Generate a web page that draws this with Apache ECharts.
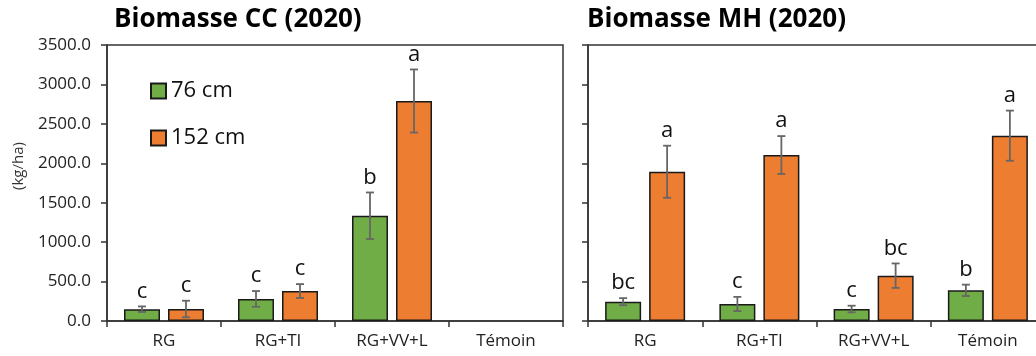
<!DOCTYPE html>
<html><head><meta charset="utf-8">
<script src="https://cdn.jsdelivr.net/npm/echarts@6/dist/echarts.min.js"></script>
<style>html,body{margin:0;padding:0;background:#fff}#c{width:1036px;height:356px}</style>
</head><body><div id="c"></div>
<script>
const categories = ['RG', 'RG+TI', 'RG+VV+L', 'Témoin'];
const seriesNames = ['76 cm', '152 cm'];
const titles = ['Biomasse CC (2020)', 'Biomasse MH (2020)'];
const yTicks = [0, 500, 1000, 1500, 2000, 2500, 3000, 3500];

const cc76 = [150, 280, 1335, null];
const cc76Err = [35, 100, 295, null];
const cc76Letters = ['c', 'c', 'b', ''];
const cc152 = [152, 380, 2790, null];
const cc152Err = [105, 88, 400, null];
const cc152Letters = ['c', 'c', 'a', ''];

const mh76 = [245, 216, 152, 389];
const mh76Err = [45, 90, 42, 72];
const mh76Letters = ['bc', 'c', 'c', 'b'];
const mh152 = [1893, 2105, 575, 2350];
const mh152Err = [330, 240, 155, 318];
const mh152Letters = ['a', 'a', 'bc', 'a'];

const FONT = 'Open Sans';
const GREEN = '#70AD47', ORANGE = '#ED7D31';
const BAR_W = 36, BAR_GAP = 8;
const OFF = (BAR_W + BAR_GAP) / 2;

function errSeries(gi, vals, errs, letters, side) {
  return {
    type: 'custom', xAxisIndex: gi, yAxisIndex: gi, z: 10, silent: true, clip: false,
    data: vals.map((v, i) => [i, v, errs[i]]),
    renderItem: function (params, api) {
      const i = api.value(0), v = api.value(1), e = api.value(2);
      if (v == null || isNaN(v)) return;
      const t = api.coord([i, v + e]);
      const b = api.coord([i, Math.max(0, v - e)]);
      const x = t[0] + side * OFF;
      const st = { stroke: '#666', lineWidth: 1.8 };
      return {
        type: 'group', children: [
          { type: 'line', shape: { x1: x, y1: t[1], x2: x, y2: b[1] }, style: st },
          { type: 'line', shape: { x1: x - 4, y1: t[1], x2: x + 4, y2: t[1] }, style: st },
          { type: 'line', shape: { x1: x - 4, y1: b[1], x2: x + 4, y2: b[1] }, style: st },
          { type: 'text', x: x, y: t[1] - 4, style: { text: letters[params.dataIndex], fill: '#111', font: '22px "' + FONT + '"', textAlign: 'center', textVerticalAlign: 'bottom' } }
        ]
      };
    }
  };
}

function barSeries(gi, name, vals, color) {
  return {
    type: 'bar', name: name, xAxisIndex: gi, yAxisIndex: gi,
    data: vals.map(v => v == null ? '-' : v),
    barWidth: BAR_W, barGap: (BAR_GAP / BAR_W * 100) + '%',
    itemStyle: { color: color, borderColor: '#1a1a1a', borderWidth: 1.5 },
    emphasis: { disabled: true }
  };
}

const axisLine = { lineStyle: { color: '#333', width: 1.5 } };

function xAx(gi) {
  return {
    type: 'category', gridIndex: gi, data: categories, boundaryGap: true,
    axisLine: axisLine,
    axisTick: { show: true, length: 6, lineStyle: { color: '#333', width: 1.5 } },
    axisLabel: { color: '#222', fontFamily: FONT, fontSize: 17, margin: 12 },
    splitLine: { show: false }
  };
}
function yAx(gi, showLabels) {
  return {
    type: 'value', gridIndex: gi, min: yTicks[0], max: yTicks[yTicks.length - 1], interval: 500,
    axisLine: { show: true, lineStyle: { color: '#333', width: 1.5 } },
    axisTick: { show: true, length: 6, lineStyle: { color: '#333', width: 1.5 } },
    axisLabel: { show: showLabels, color: '#222', fontFamily: FONT, fontSize: 17, margin: 16, formatter: v => v.toFixed(1) },
    splitLine: { show: false }
  };
}

const chart = echarts.init(document.getElementById('c'), null, { renderer: 'canvas' });
chart.setOption({
  animation: false,
  backgroundColor: '#fff',
  title: [
    { text: titles[0], left: 109, top: 2, textStyle: { fontFamily: FONT, fontSize: 26, fontWeight: 'bold', color: '#000' } },
    { text: titles[1], left: 582, top: 2, textStyle: { fontFamily: FONT, fontSize: 26, fontWeight: 'bold', color: '#000' } }
  ],
  legend: {
    data: seriesNames, orient: 'vertical', left: 145, top: 73, itemGap: 21,
    itemWidth: 15, itemHeight: 15, icon: 'rect',
    textStyle: { fontFamily: FONT, fontSize: 22, color: '#111', lineHeight: 26 },
    selectedMode: false
  },
  grid: [
    { left: 107, width: 456, top: 45, bottom: 35, outerBoundsMode: 'none', containLabel: false, show: true, borderColor: '#333', borderWidth: 1.5, backgroundColor: 'transparent' },
    { left: 588, width: 457, top: 45, bottom: 35, outerBoundsMode: 'none', containLabel: false, show: true, borderColor: '#333', borderWidth: 1.5, backgroundColor: 'transparent' }
  ],
  xAxis: [xAx(0), xAx(1)],
  yAxis: [yAx(0, true), yAx(1, false)],
  graphic: [
    { type: 'text', x: 19, y: 166, rotation: Math.PI / 2, style: { text: '(kg/ha)', font: '15px "' + FONT + '"', fill: '#333', textAlign: 'center', textVerticalAlign: 'middle' } }
  ],
  series: [
    barSeries(0, seriesNames[0], cc76, GREEN),
    barSeries(0, seriesNames[1], cc152, ORANGE),
    barSeries(1, seriesNames[0], mh76, GREEN),
    barSeries(1, seriesNames[1], mh152, ORANGE),
    errSeries(0, cc76, cc76Err, cc76Letters, -1),
    errSeries(0, cc152, cc152Err, cc152Letters, 1),
    errSeries(1, mh76, mh76Err, mh76Letters, -1),
    errSeries(1, mh152, mh152Err, mh152Letters, 1)
  ]
});
</script></body></html>
